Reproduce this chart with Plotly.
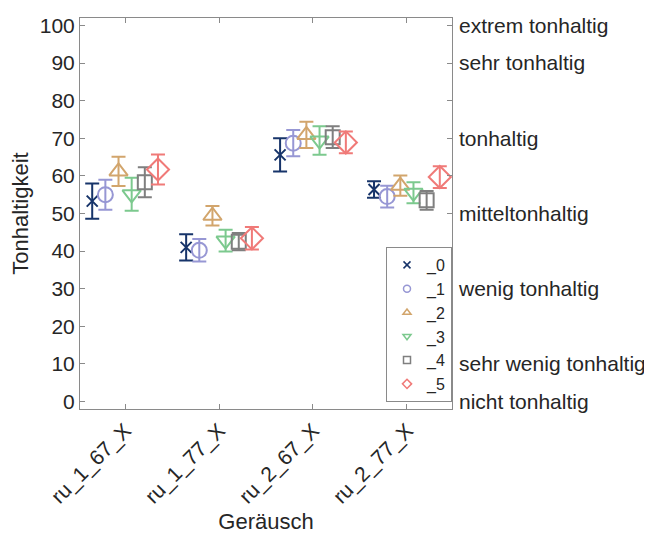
import plotly.graph_objects as go

categories = ["ru_1_67_X", "ru_1_77_X", "ru_2_67_X", "ru_2_77_X"]
series_names = ["_0", "_1", "_2", "_3", "_4", "_5"]

means = {
    "_0": [53.3, 41.0, 65.6, 56.4],
    "_1": [55.0, 40.2, 68.7, 54.5],
    "_2": [61.2, 49.4, 70.9, 57.4],
    "_3": [55.1, 42.8, 69.4, 55.5],
    "_4": [58.3, 42.5, 70.3, 53.5],
    "_5": [61.7, 43.4, 68.9, 59.7],
}
errors = {
    "_0": [4.7, 3.5, 4.4, 2.2],
    "_1": [4.0, 3.0, 3.5, 2.9],
    "_2": [3.9, 2.6, 3.5, 2.7],
    "_3": [4.4, 2.9, 3.8, 2.8],
    "_4": [4.0, 2.3, 2.9, 2.5],
    "_5": [4.0, 3.0, 2.9, 2.9],
}

right_tick_vals = [0, 10, 30, 50, 70, 90, 100]
right_tick_text = ["nicht tonhaltig", "sehr wenig tonhaltig", "wenig tonhaltig",
                   "mitteltonhaltig", "tonhaltig", "sehr tonhaltig", "extrem tonhaltig"]

colors = ["#17346a", "#9797d4", "#d2a56c", "#7cc98e", "#7f7f7f", "#f07a78"]
symbols = ["x-thin-open", "circle-open", "triangle-up-open", "triangle-down-open",
           "square-open", "diamond-open"]
sizes = [11, 15, 16, 16, 14, 17]

spacing = 0.14
fig = go.Figure()
for i, name in enumerate(series_names):
    off = (i - 2.5) * spacing
    xs = [k + 1 + off for k in range(len(categories))]
    fig.add_trace(go.Scatter(
        x=xs, y=means[name], mode="markers", name=name, showlegend=False,
        marker=dict(symbol=symbols[i], size=sizes[i], color=colors[i],
                    line=dict(width=2, color=colors[i])),
        error_y=dict(type="data", array=errors[name], color=colors[i],
                     thickness=2, width=7),
    ))
    # legend entry with small glyph
    fig.add_trace(go.Scatter(
        x=[None], y=[None], mode="markers", name=name, showlegend=True,
        marker=dict(symbol=symbols[i], size=7, color=colors[i],
                    line=dict(width=1.5, color=colors[i])),
    ))

# invisible trace for right axis labels
fig.add_trace(go.Scatter(x=[1], y=[0], yaxis="y2", mode="markers",
                         marker=dict(opacity=0), showlegend=False, hoverinfo="skip"))

font = dict(family="Liberation Sans, Arial, sans-serif", size=21, color="#262626")
axcol = "#8a8a8a"
fig.update_layout(
    width=652, height=535,
    margin=dict(l=72, r=208, t=6, b=134),
    paper_bgcolor="white", plot_bgcolor="white",
    font=font,
    xaxis=dict(range=[0.52, 4.48], tickvals=[1, 2, 3, 4], ticktext=categories,
               tickangle=-45, ticks="inside", ticklen=5, tickcolor=axcol,
               showline=True, linecolor=axcol, linewidth=1, mirror="ticks",
               showgrid=False, zeroline=False,
               title=dict(text="Geräusch", font=dict(size=22), standoff=6)),
    yaxis=dict(range=[-2, 102], tickvals=list(range(0, 101, 10)),
               ticks="inside", ticklen=5, tickcolor=axcol,
               showline=True, linecolor=axcol, linewidth=1, mirror="ticks",
               showgrid=False, zeroline=False,
               title=dict(text="Tonhaltigkeit", font=dict(size=22), standoff=8)),
    yaxis2=dict(range=[-2, 102], overlaying="y", side="right",
                tickvals=right_tick_vals, ticktext=right_tick_text,
                ticks="", ticklabelstandoff=6,
                showline=False, showgrid=False, zeroline=False),
    legend=dict(x=1, xanchor="right", y=0.018, yanchor="bottom",
                bordercolor=axcol, borderwidth=1, bgcolor="white",
                font=dict(size=16), itemwidth=30, tracegroupgap=0),
)

fig.write_html("out.html")
